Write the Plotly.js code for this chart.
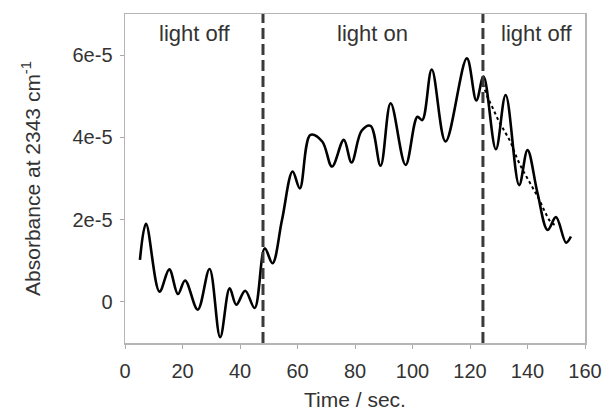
<!DOCTYPE html>
<html>
<head>
<meta charset="utf-8">
<script src="https://cdn.plot.ly/plotly-3.0.1.min.js"></script>
<style>html,body{margin:0;padding:0;background:#fff;}#chart{width:604px;height:414px;}</style>
</head>
<body>
<div id="chart"></div>
<script>
// Measured trace (time in sec, absorbance)
const time = [5.2, 7.3, 12, 15.4, 18.4, 20.9, 25.3, 29.4, 33.1, 36.4, 38.7, 41.8, 45.1, 48.6,
  51.3, 54.6, 58.3, 60.8, 64.5, 68.6, 72, 76.1, 78.8, 82.3, 85.4, 88.9, 92.4, 97.6, 101.7, 103.4,
  106.7, 111.5, 118.9, 122.2, 124.7, 129, 132.4, 137.1, 140, 143.5, 147, 149.9, 153.4, 155.1];
const absorbance = [1.02e-5, 1.9e-5, 0.25e-5, 0.79e-5, 0.19e-5, 0.52e-5, -0.19e-5, 0.8e-5, -0.86e-5, 0.33e-5, -0.07e-5, 0.27e-5, -0.15e-5, 1.3e-5,
  0.94e-5, 1.99e-5, 3.17e-5, 2.76e-5, 4.06e-5, 3.9e-5, 3.29e-5, 3.94e-5, 3.39e-5, 4.16e-5, 4.28e-5, 3.31e-5, 4.83e-5, 3.33e-5, 4.5e-5, 4.42e-5,
  5.65e-5, 3.9e-5, 5.92e-5, 4.9e-5, 5.48e-5, 3.71e-5, 5.03e-5, 2.84e-5, 3.69e-5, 2.64e-5, 1.75e-5, 2.06e-5, 1.44e-5, 1.59e-5];
// Dotted decay fit
const fitTime = [124.5, 126, 128, 130, 132, 134, 136, 138, 140, 142, 144, 146, 148, 150];
const fitAbs = [5.3e-5, 5.0e-5, 4.7e-5, 4.4e-5, 4.15e-5, 3.9e-5, 3.55e-5, 3.25e-5, 3.0e-5, 2.75e-5, 2.5e-5, 2.2e-5, 1.95e-5, 1.85e-5];
// Light switching times
const switchTimes = [48, 124.5];
// Region labels
const regionLabels = ["light off", "light on", "light off"];
const regionCenters = [24, 86, 143];
// Ticks
const xTicks = [0, 20, 40, 60, 80, 100, 120, 140, 160];
const yTickVals = [0, 2e-5, 4e-5, 6e-5];
const yTickText = ["0", "2e-5", "4e-5", "6e-5"];

const FONT = "Liberation Sans, Arial, sans-serif";
const traces = [
  {x: time, y: absorbance, mode: "lines", line: {color: "#000", width: 2.6, shape: "spline", smoothing: 1}, hoverinfo: "skip"},
  {x: fitTime, y: fitAbs, mode: "lines", line: {color: "#000", width: 2, dash: "dot", shape: "spline"}, hoverinfo: "skip"}
];
const shapes = switchTimes.map(t => ({type: "line", xref: "x", yref: "paper", x0: t, x1: t, y0: 0, y1: 1,
  line: {color: "#3a3a3a", width: 3, dash: "11px,5px"}}));
const annotations = regionLabels.map((s, i) => ({text: s, x: regionCenters[i], xref: "x", y: 0.94, yref: "paper",
  showarrow: false, font: {family: FONT, size: 22, color: "#333"}, xanchor: "center", yanchor: "middle"}));

const layout = {
  width: 604, height: 414,
  margin: {l: 125, r: 19, t: 14, b: 71},
  paper_bgcolor: "#fff", plot_bgcolor: "#fff",
  showlegend: false,
  font: {family: FONT, size: 20, color: "#333"},
  xaxis: {range: [0, 160], tickvals: xTicks, ticks: "outside", ticklen: 4, tickcolor: "#aaa", tickwidth: 1,
    showline: true, mirror: true, linecolor: "#b5b5b5", linewidth: 1.5, showgrid: false, zeroline: false,
    ticklabelstandoff: 5,
    tickfont: {family: FONT, size: 20, color: "#333"},
    title: {text: "Time / sec.", font: {family: FONT, size: 21, color: "#333"}, standoff: 12}},
  yaxis: {range: [-1e-5, 7e-5], tickvals: yTickVals, ticktext: yTickText, ticks: "outside", ticklen: 4, tickcolor: "#aaa", tickwidth: 1,
    showline: true, mirror: true, linecolor: "#b5b5b5", linewidth: 1.5, showgrid: false, zeroline: false,
    ticklabelstandoff: 3,
    tickfont: {family: FONT, size: 20, color: "#333"},
    title: {text: "Absorbance at 2343 cm<sup>-1</sup>", font: {family: FONT, size: 21, color: "#333"}, standoff: 26}},
  shapes: shapes,
  annotations: annotations
};
Plotly.newPlot("chart", traces, layout, {staticPlot: true, displayModeBar: false});
</script>
</body>
</html>
